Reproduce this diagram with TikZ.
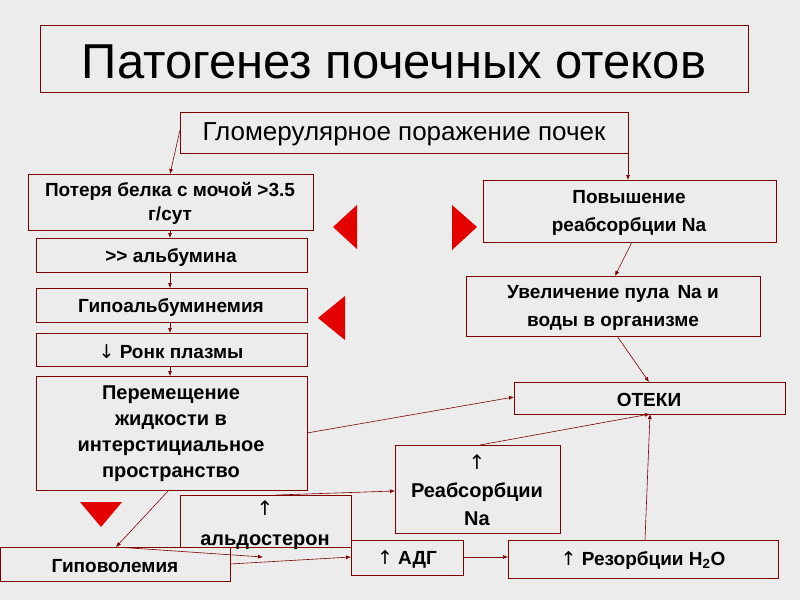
\documentclass[tikz,border=0pt]{standalone}
\usepackage{fontspec}
\setmainfont{Liberation Sans}
\newfontfamily\djfont{DejaVu Sans}
\usetikzlibrary{arrows.meta}
\definecolor{bg}{RGB}{236,236,236}
\definecolor{dr}{RGB}{128,0,0}
\newcommand{\upar}{{\djfont\mdseries ↑}}
\newcommand{\dnar}{{\djfont\mdseries ↓}}
\begin{document}
\begin{tikzpicture}[x=1pt,y=-1pt,
 bx/.style={draw=dr,line width=0.8pt,inner sep=0pt},
 t/.style={font=\bfseries\fontsize{19}{24}\selectfont,align=center},
 ar/.style={draw=dr,line width=0.6pt,-{Latex[length=5pt,width=4pt]}},
 tri/.style={fill=red!90!black,draw=none}]
\fill[bg] (0,0) rectangle (800,600);
\useasboundingbox (0,0) rectangle (800,600);
\draw[bx] (40,25) rectangle (748,92);
\node[font=\fontsize{49}{54}\selectfont] (title) at (394,62) {Патогенез почечных отеков};
\draw[bx] (180,112) rectangle (628,153); \coordinate (gl) at (180,130); \coordinate (gr) at (628,153);
\node[font=\fontsize{26}{30}\selectfont] at (404,134) {Гломерулярное поражение почек};
\draw[bx] (28,174) rectangle (313,230); \node[t] at (170,203) {Потеря белка с мочой >3.5\\г/сут};
\draw[bx] (36,238) rectangle (307,272); \node[t] at (171,257) {>{}> альбумина};
\draw[bx] (36,288) rectangle (307,322); \node[t] at (171,307) {Гипоальбуминемия};
\draw[bx] (36,333) rectangle (307,366); \node[t] at (171,352) {\dnar\ Ронк плазмы};
\draw[bx] (36,376) rectangle (307,490); \node[t,font=\bfseries\fontsize{20}{26}\selectfont] at (171,434) {Перемещение\\жидкости в\\интерстициальное\\пространство};
\draw[bx] (483,180) rectangle (776,242); \node[t,font=\bfseries\fontsize{19}{28}\selectfont] at (629,213) {Повышение\\реабсорбции Na};
\draw[bx] (466,276) rectangle (760,336); \node[t,font=\bfseries\fontsize{19}{28}\selectfont] at (613,308) {Увеличение пула\, Na и\\воды в организме};
\draw[bx] (514,382) rectangle (785,414); \node[t] at (649,400) {ОТЕКИ};
\draw[bx] (395,445) rectangle (560,533); \node[t,font=\bfseries\fontsize{20}{28}\selectfont] at (477,490) {\upar\\Реабсорбции\\Na};
\draw[bx] (180,495) rectangle (351,547); \node[t,font=\bfseries\fontsize{20}{30}\selectfont] at (265,525) {\upar\\альдостерон};
\draw[bx] (0,547) rectangle (230,581); \node[t] at (115,566) {Гиповолемия};
\draw[bx] (351,540) rectangle (463,575); \node[t] at (407,559) {\upar\ АДГ};
\draw[bx] (508,540) rectangle (778,578); \node[t] at (643,560) {\upar\ Резорбции H\textsubscript{2}O};
% connectors
\draw[ar] (gl) -- (170,174);
\draw[ar] (gr) -- (628,180);
\draw[ar] (170,230) -- (170,238);
\draw[ar] (170,272) -- (170,288);
\draw[ar] (170,322) -- (170,333);
\draw[ar] (170,366) -- (170,376);
\draw[ar] (632,242) -- (615,276);
\draw[ar] (617,336) -- (649,382);
\draw[ar] (307,433) -- (514,397);
\draw[ar] (480,445) -- (650,414);
\draw[ar] (645,540) -- (650,414);
\draw[ar] (169,490) -- (116,547);
\draw[ar] (116,547) -- (263,557);
\draw[ar] (230,564) -- (351,557);
\draw[ar] (276,495) -- (395,491);
\draw[ar] (463,557) -- (508,557);
% triangles
\fill[tri] (333,227) -- (357,205) -- (357,249) -- cycle;
\fill[tri] (477,227) -- (452,205) -- (452,250) -- cycle;
\fill[tri] (318,318) -- (345,296) -- (345,340) -- cycle;
\fill[tri] (80,502) -- (122,502) -- (101,527) -- cycle;
\end{tikzpicture}
\end{document}
